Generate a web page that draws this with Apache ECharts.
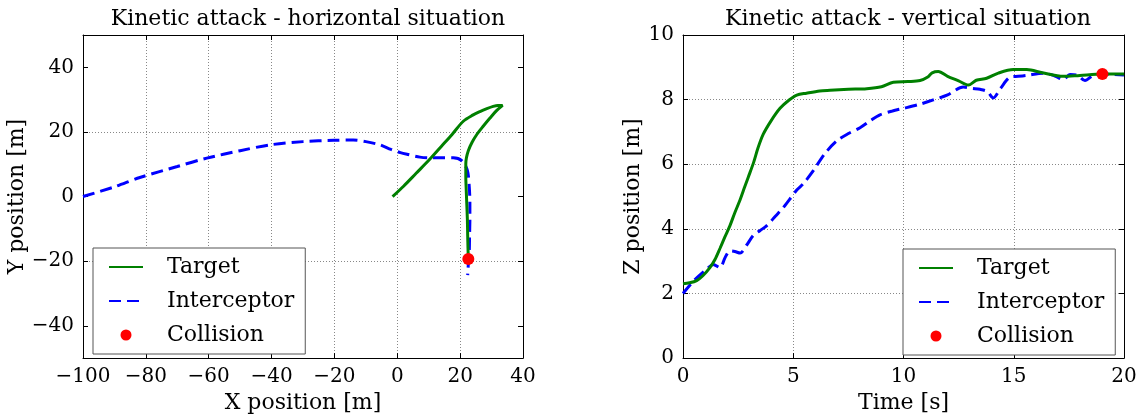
<!DOCTYPE html>
<html>
<head>
<meta charset="utf-8">
<script src="https://cdn.jsdelivr.net/npm/echarts@6/dist/echarts.min.js"></script>
<style>html,body{margin:0;padding:0;background:#fff;}#c{width:1141px;height:419px;}</style>
</head>
<body>
<div id="c"></div>
<script>
// ---------- data ----------
const titles = ['Kinetic attack - horizontal situation', 'Kinetic attack - vertical situation'];
const seriesNames = ['Target', 'Interceptor', 'Collision'];

// horizontal situation: [x, y] in metres
const targetXY = [[-1.5,0],[2,3.2],[6,7.2],[10.4,11.6],[14,15.5],[17.5,19.3],[21,23.3],[24,25.2],[26.3,26.3],[28.5,27.2],[30.5,27.9],[32,28.2],[33.5,28.2],[31.5,26.5],[29.5,24.3],[27.2,21.6],[25.3,19.2],[23.8,16.8],[22.6,14.2],[22,12],[21.8,10.1],[21.8,6],[21.9,3],[22.1,-2],[22.3,-7.1],[22.4,-12],[22.5,-16],[22.6,-19.2]];
const interceptorXY = [[-100,0],[-90,3],[-81.9,5.9],[-70,9.3],[-60.6,11.9],[-50,14.2],[-40.5,16],[-30,17],[-20.3,17.4],[-14,17.5],[-10,17],[-5.5,16],[-2,14.6],[1,13.6],[3.5,13],[7.2,12.2],[10,12],[13.6,12],[17.8,12],[20.5,11.1],[22.3,8.1],[22.9,3],[23.1,-2],[23.1,-7],[23,-12],[22.9,-17.2],[22.6,-21],[22.4,-24.3]];
const collisionXY = [[22.6,-19.3]];

// vertical situation: [t (s), z (m)]
const targetTZ = [[0,2.3],[0.3,2.33],[0.62,2.4],[0.9,2.55],[1.22,2.8],[1.45,3.05],[1.68,3.4],[1.9,3.75],[2.13,4.1],[2.35,4.5],[2.59,4.9],[2.8,5.3],[2.96,5.6],[3.2,6.05],[3.4,6.5],[3.64,6.93],[4,7.35],[4.4,7.73],[4.8,7.98],[5.16,8.14],[5.6,8.2],[6.2,8.27],[6.67,8.29],[7.5,8.32],[8.33,8.34],[9,8.4],[9.54,8.54],[10.2,8.56],[10.75,8.59],[11.1,8.7],[11.3,8.83],[11.58,8.87],[12,8.72],[12.5,8.58],[12.94,8.45],[13.3,8.6],[13.77,8.66],[14.3,8.82],[14.98,8.93],[15.59,8.93],[16.3,8.83],[17.25,8.72],[18,8.75],[19.02,8.79],[20,8.79]];
const interceptorTZ = [[0,2.0],[0.5,2.4],[1.07,2.75],[1.37,2.9],[1.68,2.8],[1.9,3.1],[2.13,3.32],[2.35,3.3],[2.59,3.25],[2.89,3.5],[3.19,3.8],[3.5,3.95],[3.8,4.1],[4.2,4.4],[4.55,4.66],[5.16,5.2],[5.46,5.4],[5.91,5.8],[6.4,6.3],[6.97,6.72],[7.5,6.95],[8.03,7.13],[8.5,7.35],[8.93,7.53],[9.5,7.65],[10,7.73],[10.7,7.85],[11.35,7.99],[12,8.15],[12.71,8.39],[13.1,8.35],[13.47,8.32],[13.8,8.25],[14.07,8.05],[14.4,8.35],[14.83,8.69],[15.2,8.72],[15.59,8.75],[16.34,8.82],[16.8,8.75],[17.25,8.62],[17.55,8.78],[17.9,8.75],[18.23,8.59],[18.6,8.75],[19.0,8.79],[20,8.76]];
const collisionTZ = [[19.02,8.79]];

const leftYTicks = [-40,-20,0,20,40];

// ---------- styling ----------
const FONT = '"DejaVu Serif", "Liberation Serif", serif';
const GREEN = '#008000', BLUE = '#0000ff', RED = '#ff0000';
const minus = v => String(v).replace('-', '\u2212');
const NAME_STYLE = { color: '#000', fontFamily: FONT, fontSize: 22 };

function axisBase(extra) {
  return Object.assign({
    type: 'value',
    axisLine: { show: true, onZero: false, lineStyle: { color: '#000', width: 1 } },
    axisTick: { show: true, inside: true, length: 5, lineStyle: { color: '#000' } },
    axisLabel: { color: '#000', fontFamily: FONT, fontSize: 20, margin: 9, formatter: minus },
    splitLine: { show: true, lineStyle: { color: '#888', type: [1, 2], width: 1 } },
    nameTextStyle: NAME_STYLE
  }, extra);
}
function mirror(base, pos) {
  const a = JSON.parse(JSON.stringify(base));
  a.position = pos;
  a.axisLabel = { show: false };
  a.splitLine = { show: false };
  a.name = '';
  return a;
}

const x0 = axisBase({ gridIndex: 0, min: -100, max: 40, interval: 20, name: 'X position [m]', nameLocation: 'middle', nameGap: 27 });
const y0 = axisBase({ gridIndex: 0, min: -50, max: 50, interval: 10, name: 'Y position [m]', nameLocation: 'middle', nameGap: 45 });
y0.axisLabel.customValues = leftYTicks;
y0.axisTick.customValues = leftYTicks;
y0.splitLine.lineStyle.color = ['rgba(0,0,0,0)', '#888'];
const x1 = axisBase({ gridIndex: 1, min: 0, max: 20, interval: 5, name: 'Time [s]', nameLocation: 'middle', nameGap: 27 });
const y1 = axisBase({ gridIndex: 1, min: 0, max: 10, interval: 2, name: 'Z position [m]', nameLocation: 'middle', nameGap: 28 });

const x0t = mirror(x0, 'top');
const y0r = mirror(y0, 'right'); y0r.axisLabel = { show: false, customValues: leftYTicks };
const x1t = mirror(x1, 'top');
const y1r = mirror(y1, 'right');

function legend(left, top) {
  return {
    left: left, top: top, orient: 'vertical',
    data: [
      { name: 'Target', itemStyle: { opacity: 0 } },
      { name: 'Interceptor', itemStyle: { opacity: 0 } },
      { name: 'Collision', icon: 'circle' }
    ],
    backgroundColor: '#fff', borderColor: '#555', borderWidth: 1,
    padding: [8, 11, 8, 15],
    itemWidth: 34, itemHeight: 11, itemGap: 12,
    textStyle: { color: '#000', fontFamily: FONT, fontSize: 22, lineHeight: 22, padding: [0, 0, 0, 19] }
  };
}

function lineSeries(name, data, xi, yi, color, type) {
  return {
    name: name, type: 'line', data: data, xAxisIndex: xi, yAxisIndex: yi,
    symbol: 'none', smooth: 0.3, animation: false,
    lineStyle: { color: color, width: 3, type: type },
    itemStyle: { color: color }, z: name === 'Target' ? 3 : 2
  };
}
function dotSeries(data, xi, yi) {
  return {
    name: 'Collision', type: 'scatter', data: data, xAxisIndex: xi, yAxisIndex: yi,
    symbol: 'circle', symbolSize: 12, itemStyle: { color: RED, opacity: 1 }, z: 5, animation: false
  };
}

const TITLE_STYLE = { fontFamily: FONT, fontSize: 22, fontWeight: 'normal', color: '#000' };
const option = {
  backgroundColor: '#fff',
  animation: false,
  title: [
    { text: titles[0], left: 303, top: 3, textAlign: 'center', textStyle: TITLE_STYLE },
    { text: titles[1], left: 903, top: 3, textAlign: 'center', textStyle: TITLE_STYLE }
  ],
  grid: [
    { left: 83, top: 35, width: 440, height: 331 },
    { left: 683, top: 35, width: 441, height: 331 }
  ],
  legend: [legend(93, 248), legend(903, 249)],
  xAxis: [x0, x1, Object.assign(x0t, { gridIndex: 0 }), Object.assign(x1t, { gridIndex: 1 })],
  yAxis: [y0, y1, Object.assign(y0r, { gridIndex: 0 }), Object.assign(y1r, { gridIndex: 1 })],
  series: [
    lineSeries('Target', targetXY, 0, 0, GREEN, 'solid'),
    lineSeries('Interceptor', interceptorXY, 0, 0, BLUE, [12, 6]),
    dotSeries(collisionXY, 0, 0),
    lineSeries('Target', targetTZ, 1, 1, GREEN, 'solid'),
    lineSeries('Interceptor', interceptorTZ, 1, 1, BLUE, [12, 6]),
    dotSeries(collisionTZ, 1, 1)
  ]
};

const chart = echarts.init(document.getElementById('c'), null, { renderer: 'canvas' });
chart.setOption(option);
</script>
</body>
</html>
